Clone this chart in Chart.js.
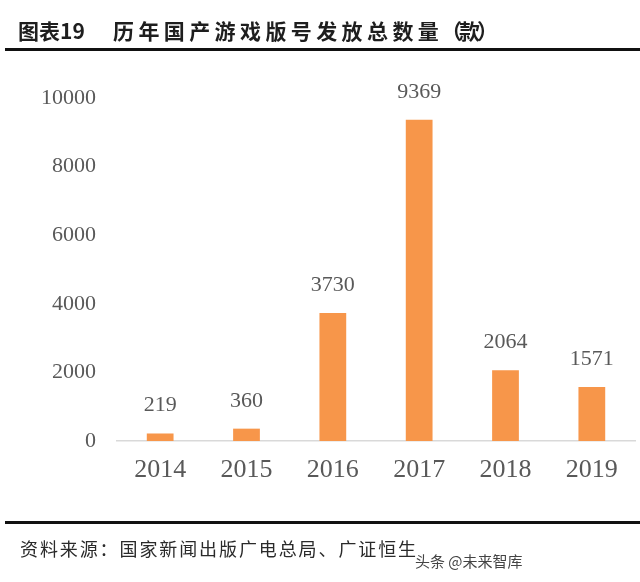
<!DOCTYPE html>
<html>
<head>
<meta charset="utf-8">
<script src="https://cdn.jsdelivr.net/npm/chart.js@4/dist/chart.umd.min.js"></script>
<style>
  html, body { margin: 0; padding: 0; background: #fff; }
  #wrap { position: relative; width: 640px; height: 582px; overflow: hidden; }
  #grafico { position: absolute; left: 0; top: 0; }
  .titulo { position: absolute; top: 17px; font-family: "Noto Sans CJK SC", sans-serif; font-weight: bold; font-size: 21px; color: #1e1e1e; white-space: nowrap; line-height: 26px; }
  .linea { position: absolute; left: 5px; right: 0; height: 3px; background: #111; }
  .fuente { position: absolute; left: 20px; top: 536px; font-family: "Noto Sans CJK SC", sans-serif; font-size: 18px; letter-spacing: 1.9px; color: #2a2a2a; white-space: nowrap; line-height: 24px; }
  .marca { position: absolute; left: 415px; top: 551px; font-family: "Noto Sans CJK SC", sans-serif; font-size: 15px; color: #444; white-space: nowrap; line-height: 20px; }
</style>
</head>
<body>
<div id="wrap">
  <canvas id="grafico" width="640" height="582"></canvas>
  <div class="titulo" style="left:18px;">图表19</div>
  <div class="titulo" style="left:113px; letter-spacing:4.4px;">历年国产游戏版号发放总数量</div>
  <div class="titulo" style="left:441px; letter-spacing:-3px;">（款）</div>
  <div class="linea" style="top:48px;"></div>
  <div class="linea" style="top:521px;"></div>
  <div class="fuente">资料来源：国家新闻出版广电总局、广证恒生</div>
  <div class="marca">头条 @未来智库</div>
</div>
<script>
// datos del grafico
const anios = ['2014', '2015', '2016', '2017', '2018', '2019']
const versiones = [219, 360, 3730, 9369, 2064, 1571]
const ticksY = [0, 2000, 4000, 6000, 8000, 10000]

const naranja = '#F7964A'
const gris = '#595959'

// etiquetas encima de cada barra
const etiquetas = {
  id: 'etiquetas',
  afterDatasetsDraw(chart) {
    const ctx = chart.ctx
    const meta = chart.getDatasetMeta(0)
    ctx.save()
    ctx.font = '22px "Liberation Serif", serif'
    ctx.fillStyle = gris
    ctx.textAlign = 'center'
    ctx.textBaseline = 'alphabetic'
    meta.data.forEach((barra, i) => {
      ctx.fillText(String(versiones[i]), barra.x, barra.y - 22)
    })
    ctx.restore()
  },
}

const contenedor = document.getElementById('grafico')
const grafico = new Chart(contenedor, {
  type: 'bar',
  data: {
    labels: anios,
    datasets: [
      {
        label: '版号',
        data: versiones,
        backgroundColor: naranja,
        borderWidth: 0,
        barPercentage: 0.31,
        categoryPercentage: 1,
      },
    ],
  },
  options: {
    responsive: false,
    animation: false,
    layout: {
      padding: { left: 0, right: 5, top: 98, bottom: 101 },
    },
    plugins: {
      legend: { display: false },
      tooltip: { enabled: false },
    },
    scales: {
      x: {
        grid: { display: false, drawTicks: false },
        border: { display: true, color: '#D9D9D9', width: 1.5 },
        ticks: {
          color: gris,
          padding: 14,
          font: { family: '"Liberation Serif", serif', size: 26 },
        },
        afterFit: (s) => { s.height = 40 },
      },
      y: {
        min: 0,
        max: 10000,
        afterBuildTicks: (s) => { s.ticks = ticksY.map((v) => ({ value: v })) },
        grid: { display: false, drawTicks: false },
        border: { display: false },
        ticks: {
          color: gris,
          padding: 21,
          font: { family: '"Liberation Serif", serif', size: 22 },
          callback: (v) => String(v),
        },
        afterFit: (s) => { s.width = 117 },
      },
    },
  },
  plugins: [etiquetas],
})
</script>
</body>
</html>
